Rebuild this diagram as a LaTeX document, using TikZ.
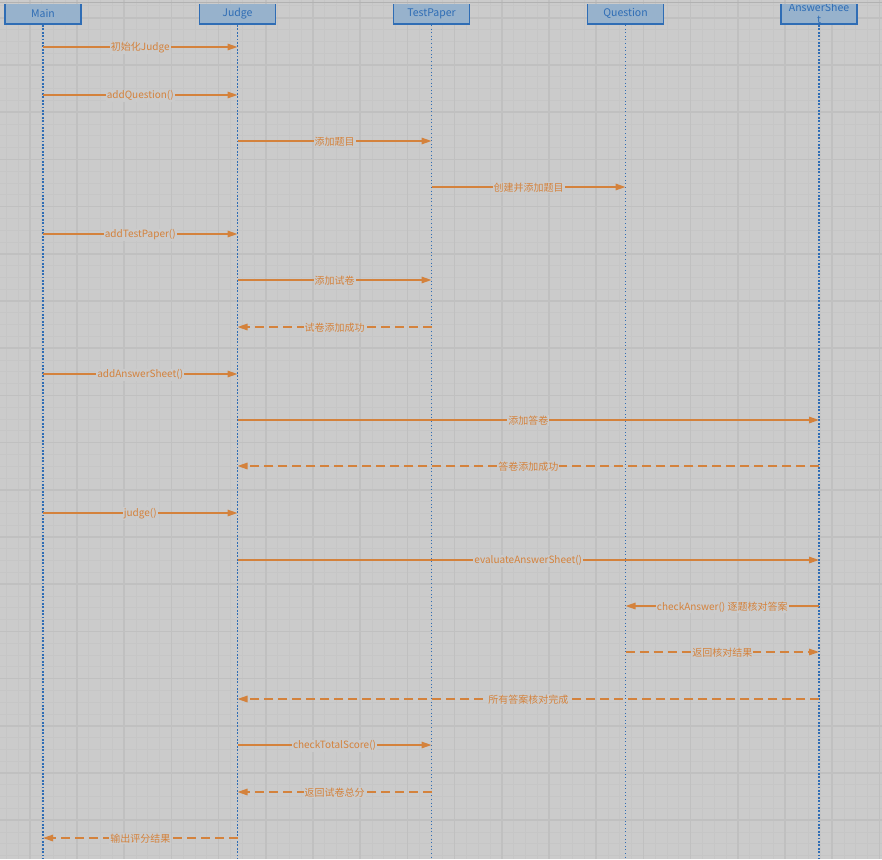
\documentclass[tikz,border=0pt]{standalone}
\usepackage{fontspec}
\setmainfont{Noto Sans CJK SC}
\usepackage{tikz}
\usetikzlibrary{arrows.meta}

\definecolor{bggrey}{HTML}{CBCBCB}
\definecolor{gridminor}{HTML}{C6C6C6}
\definecolor{gridmajor}{HTML}{C0C0C0}
\definecolor{headfill}{HTML}{97B2CC}
\definecolor{headblue}{HTML}{2F6DB5}
\definecolor{msgorange}{HTML}{D4823C}

\tikzset{
  actor/.style={draw=headblue,line width=1.6pt,fill=headfill,text=headblue,
    minimum width=76pt,minimum height=21pt,inner sep=0pt,anchor=south,
    font=\fontsize{10.5}{12}\selectfont},
  lifethick/.style={headblue,line width=1.8pt,dash pattern=on 1.8pt off 1.6pt},
  lifethin/.style={headblue,line width=0.9pt,dash pattern=on 1pt off 2.6pt},
  msg/.style={msgorange,line width=1.4pt,-{Triangle[length=10pt,width=6.5pt]}},
  reply/.style={msg,dash pattern=on 9pt off 5pt},
  msglabel/.style={fill=bggrey,text=msgorange,inner sep=1pt,
    font=\fontsize{10}{11}\selectfont}
}

\begin{document}
\begin{tikzpicture}[x=1pt,y=-1pt]
  % Boundary
  \path[use as bounding box] (0,0) rectangle (882,859);
  \fill[bggrey] (0,0) rectangle (882,859);
  % Grid
  \foreach \i in {0,...,74} {
    \draw[gridminor,line width=1pt] (6.2+11.8*\i,0) -- (6.2+11.8*\i,859);
    \draw[gridminor,line width=1pt] (0,6+11.8*\i) -- (882,6+11.8*\i);
  }
  \foreach \i in {-2,...,18} {
    \draw[gridmajor,line width=1.6pt] (77+47.2*\i,0) -- (77+47.2*\i,859);
    \draw[gridmajor,line width=1.6pt] (0,65+47.2*\i) -- (882,65+47.2*\i);
  }
  \draw[black!30,line width=1.5pt] (0,2.3) -- (882,2.3);
  % Heads
  \begin{scope}
    \clip (0,4.6) rectangle (882,859);
    \node[actor] (main) at (43,25) {Main};
    \node[actor] (judge) at (237.5,25) {Judge};
    \node[actor] (testpaper) at (431.5,25) {TestPaper};
    \node[actor] (question) at (625.5,25) {Question};
    \node[actor,align=center,inner ysep=1pt] (answersheet) at (819,25) {AnswerShee\\t};
  \end{scope}
  % Lifelines
  \coordinate (mainend) at (main |- 0,859);
  \coordinate (judgeend) at (judge |- 0,859);
  \coordinate (testpaperend) at (testpaper |- 0,859);
  \coordinate (questionend) at (question |- 0,859);
  \coordinate (answersheetend) at (answersheet |- 0,859);
  \draw[lifethick] (main.south) -- (mainend);
  \draw[lifethick] (judge.south) -- (judgeend);
  \draw[lifethin] (testpaper.south) -- (testpaperend);
  \draw[lifethin] (question.south) -- (questionend);
  \draw[lifethick] (answersheet.south) -- (answersheetend);
  % Messages
  \foreach \y/\from/\to/\kind/\txt in {
      47/main/judge/msg/初始化Judge,
      95/main/judge/msg/addQuestion(),
      141/judge/testpaper/msg/添加题目,
      187/testpaper/question/msg/创建并添加题目,
      234/main/judge/msg/addTestPaper(),
      280/judge/testpaper/msg/添加试卷,
      327/testpaper/judge/reply/试卷添加成功,
      374/main/judge/msg/addAnswerSheet(),
      420/judge/answersheet/msg/添加答卷,
      466/answersheet/judge/reply/答卷添加成功,
      513/main/judge/msg/judge(),
      560/judge/answersheet/msg/evaluateAnswerSheet(),
      606/answersheet/question/msg/checkAnswer() 逐题核对答案,
      652/question/answersheet/reply/返回核对结果,
      699/answersheet/judge/reply/所有答案核对完成,
      745/judge/testpaper/msg/checkTotalScore(),
      792/testpaper/judge/reply/返回试卷总分,
      838/judge/main/reply/输出评分结果} {
    \draw[\kind] (\from |- 0,\y) -- node[msglabel,yshift=-0.8pt] {\txt} (\to |- 0,\y);
  }
\end{tikzpicture}
\end{document}
